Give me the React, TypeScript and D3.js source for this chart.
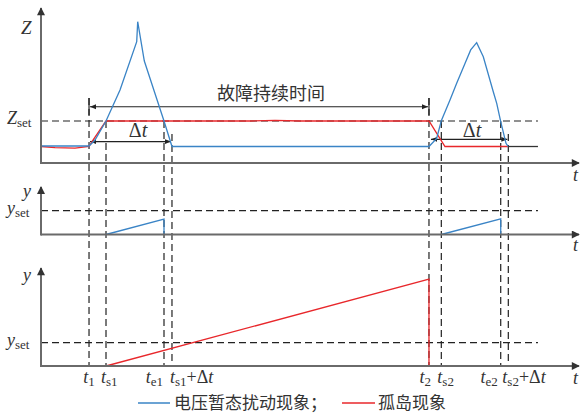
import React from 'react';
import * as d3 from 'd3';

// time positions (arbitrary units)
const T1 = 8.91, TS1 = 12.06, TE1 = 22.82, TS1D = 24.3;
const T2 = 71.98, TS2 = 74.27, TE2 = 85.29, TS2D = 86.7;
const T_END = 92.2;

const Z_SET = 2.47;
const Y_SET = 1;

// top panel: voltage disturbance (blue) impedance curve
const blueZ: [number, number][] = [
  [0, 1.0], [8.91, 1.0], [10.02, 1.35], [12.06, 2.47], [14.66, 4.29], [17.76, 7.14],
  [17.94, 8.31], [19.17, 6.0], [22.82, 2.47], [24.3, 0.97], [71.98, 0.97],
  [73.41, 1.45], [74.27, 2.49], [75.88, 3.71], [77.12, 4.69], [78.66, 5.86],
  [79.72, 6.65], [80.83, 7.08], [82.06, 6.25], [83.91, 4.19], [84.55, 3.51],
  [85.29, 2.43], [86.27, 1.16], [86.7, 0.97],
];
// top panel: islanding (red) impedance curve
const redZ: [number, number][] = [
  [0, 0.97], [2.6, 0.91], [6.31, 0.88], [8.91, 0.97], [9.65, 1.35], [12.06, 2.47],
  [38.78, 2.47], [43.41, 2.51], [48.05, 2.47], [71.98, 2.47], [74.95, 0.97], [86.7, 0.97],
];
const tailZ: [number, number][] = [[86.7, 0.97], [92.2, 0.97]];

// middle panel counters (blue)
const blueY1: [number, number][] = [[TS1, 0], [TE1, 0.65], [TE1, 0]];
const blueY2: [number, number][] = [[TS2, 0], [TE2, 0.66], [TE2, 0]];
// bottom panel counter (red)
const redY: [number, number][] = [[TS1, 0], [T2, 3.72], [T2, 0]];

// vertical guide lines: time, start level in Z units
const guides: [number, number][] = [
  [T1, 3.82], [TS1, Z_SET], [TE1, Z_SET], [TS1D, 1.7],
  [T2, 3.82], [TS2, Z_SET], [TE2, Z_SET], [TS2D, 1.7],
];

// tick labels under bottom axis: [time, sub, suffix, anchor, dx]
const tickLabels: [number, string, boolean, string, number][] = [
  [T1, '1', false, 'middle', 0],
  [TS1, 's1', false, 'start', -5],
  [TE1, 'e1', false, 'end', -1],
  [TS1D, 's1', true, 'start', -2],
  [T2, '2', false, 'end', 2],
  [TS2, 's2', false, 'start', -4],
  [TE2, 'e2', false, 'end', -3],
  [TS2D, 's2', true, 'start', -6],
];

const BLUE = '#3a84c6';
const RED = '#e8272b';
const AXIS = '#6a6a6a';
const DASH = '#222';
const SERIF = '"Liberation Serif", "Times New Roman", serif';
const CJK = '"Noto Sans CJK SC", sans-serif';

export default function App() {
  const W = 582, H = 414;
  const x = d3.scaleLinear().domain([0, 100]).range([41, 580]);
  const z = d3.scaleLinear().domain([0, 9]).range([163, 10]);
  const ym = d3.scaleLinear().domain([0, 2]).range([234.5, 186.9]);
  const yb = d3.scaleLinear().domain([0, 4.2]).range([366, 268]);

  const lineZ = d3.line<[number, number]>().x(d => x(d[0])).y(d => z(d[1]));
  const lineM = d3.line<[number, number]>().x(d => x(d[0])).y(d => ym(d[1]));
  const lineB = d3.line<[number, number]>().x(d => x(d[0])).y(d => yb(d[1]));

  const x0 = x(0);
  const axisEnd = x(100) - 1;

  const arrowFault = z(3.31);
  const dt1 = z(1.26);
  const dt2 = z(1.39);

  return (
    <svg width={W} height={H} style={{ position: 'absolute', left: 0, top: 0, background: '#fff' }}>
      <defs>
        <marker id="ax" viewBox="0 0 10 10" refX="9" refY="5" markerWidth="9" markerHeight="8" orient="auto" markerUnits="userSpaceOnUse">
          <path d="M0,0 L10,5 L0,10 z" fill="#333" />
        </marker>
        <marker id="ar" viewBox="0 0 10 10" refX="10" refY="5" markerWidth="9" markerHeight="6" orient="auto-start-reverse" markerUnits="userSpaceOnUse">
          <path d="M0,1 L10,5 L0,9 z" fill="#222" />
        </marker>
      </defs>

      {/* guide dashed verticals */}
      {guides.map(([t, lv], i) => (
        <line key={'g' + i} x1={x(t)} x2={x(t)} y1={z(lv)} y2={yb(0)} stroke={DASH} strokeWidth={1.2} strokeDasharray="7,4" />
      ))}

      {/* horizontal thresholds */}
      <line x1={x0} x2={x(T_END)} y1={z(Z_SET)} y2={z(Z_SET)} stroke={DASH} strokeWidth={1.2} strokeDasharray="7,4" />
      <line x1={x0} x2={x(T_END)} y1={ym(Y_SET)} y2={ym(Y_SET)} stroke={DASH} strokeWidth={1.2} strokeDasharray="7,4" />
      <line x1={x0} x2={x(T_END)} y1={yb(Y_SET)} y2={yb(Y_SET)} stroke={DASH} strokeWidth={1.2} strokeDasharray="7,4" />

      {/* dimension arrows */}
      <line x1={x(T1)} x2={x(T1)} y1={z(3.82)} y2={z(2.82)} stroke="#222" strokeWidth={1.2} />
      <line x1={x(T2)} x2={x(T2)} y1={z(3.82)} y2={z(2.82)} stroke="#222" strokeWidth={1.2} />
      <line x1={x(T1) + 1} x2={x(T2) - 1} y1={arrowFault} y2={arrowFault} stroke="#222" strokeWidth={1.2}
        markerStart="url(#ar)" markerEnd="url(#ar)" />
      <line x1={x(T1) + 1} x2={x(TS1D) - 1} y1={dt1} y2={dt1} stroke="#222" strokeWidth={1.2}
        markerStart="url(#ar)" markerEnd="url(#ar)" />
      <line x1={x(T2) + 2} x2={x(TS2D) - 1} y1={dt2} y2={dt2} stroke="#222" strokeWidth={1.2}
        markerStart="url(#ar)" markerEnd="url(#ar)" />

      <text x={271} y={100} fontFamily={CJK} fontSize={18} fill="#333" textAnchor="middle">故障持续时间</text>
      <text x={(x(TS1) + x(TE1)) / 2 + 3} y={137} fontFamily={SERIF} fontSize={20} fill="#333" textAnchor="middle">
        Δ<tspan fontStyle="italic">t</tspan>
      </text>
      <text x={(x(TS2) + x(TE2)) / 2 + 1} y={137} fontFamily={SERIF} fontSize={20} fill="#333" textAnchor="middle">
        Δ<tspan fontStyle="italic">t</tspan>
      </text>

      {/* curves */}
      <path d={lineZ(redZ) || ''} fill="none" stroke={RED} strokeWidth={1.3} />
      <path d={lineZ(blueZ) || ''} fill="none" stroke={BLUE} strokeWidth={1.3} />
      <path d={lineZ(tailZ) || ''} fill="none" stroke="#333" strokeWidth={1.3} />
      <path d={lineM(blueY1) || ''} fill="none" stroke={BLUE} strokeWidth={1.3} />
      <path d={lineM(blueY2) || ''} fill="none" stroke={BLUE} strokeWidth={1.3} />
      <path d={lineB(redY) || ''} fill="none" stroke={RED} strokeWidth={1.3} />

      {/* axes */}
      <line x1={x0} x2={x0} y1={z(0) + 1} y2={z(9) - 2} stroke={AXIS} strokeWidth={2} markerEnd="url(#ax)" />
      <line x1={x0} x2={axisEnd} y1={z(0)} y2={z(0)} stroke={AXIS} strokeWidth={2} markerEnd="url(#ax)" />
      <line x1={x0} x2={x0} y1={ym(0) + 1} y2={ym(2)} stroke={AXIS} strokeWidth={2} markerEnd="url(#ax)" />
      <line x1={x0} x2={axisEnd} y1={ym(0)} y2={ym(0)} stroke={AXIS} strokeWidth={2} markerEnd="url(#ax)" />
      <line x1={x0} x2={x0} y1={yb(0) + 1} y2={yb(4.2)} stroke={AXIS} strokeWidth={2} markerEnd="url(#ax)" />
      <line x1={x0} x2={axisEnd} y1={yb(0)} y2={yb(0)} stroke={AXIS} strokeWidth={2} markerEnd="url(#ax)" />

      {/* axis labels */}
      <g fontFamily={SERIF} fill="#333">
        <text x={21} y={34} fontSize={19} fontStyle="italic">Z</text>
        <text x={7} y={124} fontSize={18} fontStyle="italic">Z<tspan fontStyle="normal" fontSize={13} dy={3}>set</tspan></text>
        <text x={23} y={197} fontSize={18} fontStyle="italic">y</text>
        <text x={7} y={214} fontSize={18} fontStyle="italic">y<tspan fontStyle="normal" fontSize={13} dy={3}>set</tspan></text>
        <text x={23} y={281} fontSize={18} fontStyle="italic">y</text>
        <text x={7} y={346} fontSize={18} fontStyle="italic">y<tspan fontStyle="normal" fontSize={13} dy={3}>set</tspan></text>
        <text x={573} y={181} fontSize={18} fontStyle="italic">t</text>
        <text x={573} y={251} fontSize={18} fontStyle="italic">t</text>
        <text x={573} y={384} fontSize={18} fontStyle="italic">t</text>

        {tickLabels.map(([t, sub, plus, anchor, dx], i) => (
          <text key={'tl' + i} x={x(t) + dx} y={383} fontSize={18} textAnchor={anchor}>
            <tspan fontStyle="italic">t</tspan>
            <tspan fontSize={13} dy={3}>{sub}</tspan>
            {plus ? <tspan dy={-3}>+Δ</tspan> : null}
            {plus ? <tspan fontStyle="italic">t</tspan> : null}
          </text>
        ))}
      </g>

      {/* legend */}
      <line x1={138} x2={170} y1={403} y2={403} stroke={BLUE} strokeWidth={1.5} />
      <text x={174} y={409} fontFamily={CJK} fontSize={17} fill="#333">电压暂态扰动现象；</text>
      <line x1={342} x2={375} y1={403} y2={403} stroke={RED} strokeWidth={1.5} />
      <text x={378} y={409} fontFamily={CJK} fontSize={17} fill="#333">孤岛现象</text>
    </svg>
  );
}
